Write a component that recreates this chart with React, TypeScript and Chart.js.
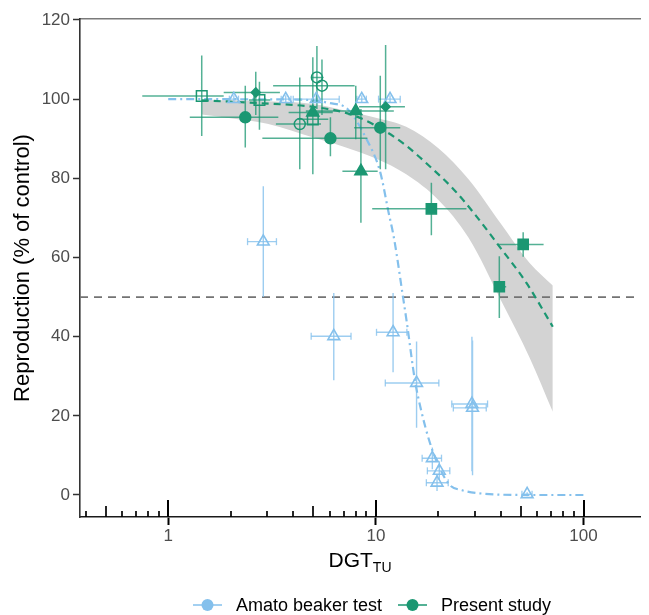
import React, { useEffect, useRef } from 'react';
import { Chart, registerables } from 'chart.js';

Chart.register(...registerables);

// ---------- axis ticks ----------
const xLogTicks = [0.4, 0.5, 0.6, 0.7, 0.8, 0.9, 1, 2, 3, 4, 5, 6, 7, 8, 9, 10, 20, 30, 40, 50, 60, 70, 80, 90, 100];
const xMajorTicks = [1, 10, 100];
const xMidTicks = [0.5, 5, 50];
const yTicks = [0, 20, 40, 60, 80, 100, 120];
const xMin = 0.376;
const xMax = 187;
const yMin = -5.56;
const yMax = 120.25;
const referenceLevel = 50;

// ---------- Amato beaker test ----------
const amatoX = [2.07, 3.68, 5.16, 8.55, 11.7, 2.87, 6.27, 12.1, 15.7, 29.0, 29.2, 18.7, 20.2, 19.7, 53.5];
const amatoY = [100, 100, 100, 100, 100, 64.0, 40.1, 41.1, 28.3, 23.0, 22.0, 9.3, 6.1, 3.1, 0.2];
const amatoXLow = [1.97, 3.5, 4.0, 8.1, 10.3, 2.41, 4.88, 10.07, 11.1, 23.2, 23.6, 16.7, 17.7, 17.5, 50.5];
const amatoXHigh = [2.18, 3.9, 6.66, 9.0, 13.1, 3.32, 7.59, 14.1, 20.1, 34.5, 34.0, 20.7, 22.7, 22.3, 56.5];
const amatoYLow = [99, 99, 99, 99, 99, 50, 29, 31, 17, 6, 5, 6.5, 3.8, 1.0, -0.3];
const amatoYHigh = [101, 101, 101, 101, 101, 78, 51, 51, 38.8, 40, 39, 12, 8.5, 5.2, 0.7];

// fitted curve
const amatoCurveX = [1.0, 4.2, 6, 7.3, 9, 10.5, 11.5, 12.25, 13.5, 14.1, 15.4, 16.5, 18.2, 20, 22.7, 26, 30.5, 54.6, 100];
const amatoCurveY = [100, 99.9, 99, 97.5, 90, 81.5, 71.5, 64.6, 50.1, 43.5, 29.1, 21.5, 13.2, 7.5, 2.5, 1.2, 0.5, 0, 0];

// ---------- Present study ----------
const presentGroup = ['openSquare', 'openSquare', 'openSquare', 'diamond', 'diamond', 'circle', 'circle', 'circle', 'openCircle', 'openCircle', 'openCircle', 'triangle', 'triangle', 'triangle', 'square', 'square', 'square'];
const presentX = [1.45, 2.75, 4.97, 2.64, 11.14, 2.35, 6.04, 10.5, 4.30, 5.2, 5.5, 4.97, 8.0, 8.47, 18.5, 51.2, 39.3];
const presentY = [100.8, 99.8, 94.9, 101.7, 98.1, 95.4, 90.1, 92.8, 93.7, 105.5, 103.4, 96.6, 97.0, 81.8, 72.3, 63.3, 52.6];
const presentXLow = [0.75, 2.45, 4.2, 1.85, 8.3, 1.27, 2.84, 7.86, 3.30, 4.9, 3.2, 3.8, 4.6, 6.9, 9.6, 38.7, 37.1];
const presentXHigh = [1.85, 3.1, 5.9, 3.45, 13.8, 3.39, 9.1, 13.1, 5.44, 5.6, 7.9, 6.2, 12.2, 10.2, 27.3, 64.2, 42.4];
const presentYLow = [90.7, 92.3, 88, 96, 82.3, 87.8, 85.6, 82.3, 82.3, 97.5, 96, 81, 89.9, 68.8, 65.6, 60.2, 44.7];
const presentYHigh = [111.0, 104.4, 101, 106.9, 113.7, 103.4, 95.4, 105.9, 105.5, 113.4, 110, 110.6, 103.4, 97.5, 78.9, 66.4, 60.3];

// fitted curve and confidence band
const presentCurveX = [1.45, 2.72, 5.08, 7.72, 11.35, 14.1, 18.2, 23.7, 30.5, 39.3, 52.9, 71.1];
const presentCurveY = [99.7, 99.0, 98.0, 96.0, 91.6, 88.1, 83.0, 77.2, 70.4, 62.8, 53.7, 42.5];
const bandX = [1.45, 2, 3, 5, 7, 10, 14, 20, 28, 40, 55, 71.1];
const bandUpper = [99.8, 99.7, 99.5, 98.8, 97.2, 95.3, 93.0, 87.6, 79.7, 68.5, 58.6, 52.9];
const bandLower = [96.1, 95.2, 93.8, 90.3, 88.0, 85.0, 81.0, 74.5, 64.9, 49.2, 34.7, 21.0];

// ---------- styles ----------
const FONT = "'Liberation Sans', Arial, Helvetica, sans-serif";
const BLUE = '#84c0ec';
const BLUE_BAR = 'rgba(132,192,236,0.8)';
const GREEN = '#1b9772';
const GREEN_BAR = 'rgba(27,151,114,0.75)';

const shapeStyle: Record<string, any> = {
  openSquare: { pointStyle: 'rect', pointRadius: 7.5, filled: false },
  diamond: { pointStyle: 'rectRot', pointRadius: 4.5, filled: true },
  circle: { pointStyle: 'circle', pointRadius: 5.5, filled: true },
  openCircle: { pointStyle: 'circle', pointRadius: 5.5, filled: false },
  triangle: { pointStyle: 'triangle', pointRadius: 7, filled: true },
  square: { pointStyle: 'rect', pointRadius: 7.2, filled: true },
};

function vSegments(xs: number[], lo: number[], hi: number[]) {
  const out: any[] = [];
  xs.forEach((x, i) => {
    out.push({ x, y: lo[i] }, { x, y: hi[i] }, { x, y: null });
  });
  return out;
}
function hSegments(ys: number[], lo: number[], hi: number[]) {
  const out: any[] = [];
  ys.forEach((y, i) => {
    out.push({ x: lo[i], y }, { x: hi[i], y }, { x: hi[i], y: null });
  });
  return out;
}

const decorPlugin = {
  id: 'decor',
  afterDraw(chart: any) {
    const { ctx, chartArea, scales } = chart;
    const xs = scales.x;
    ctx.save();
    // inner log ticks
    ctx.strokeStyle = '#000';
    xLogTicks.forEach((v) => {
      const px = Math.round(xs.getPixelForValue(v));
      const major = xMajorTicks.includes(v);
      const mid = xMidTicks.includes(v);
      const len = major ? 17 : mid ? 11 : 6;
      ctx.lineWidth = major ? 2 : 1.7;
      ctx.beginPath();
      ctx.moveTo(px, chartArea.bottom);
      ctx.lineTo(px, chartArea.bottom - len);
      ctx.stroke();
    });
    // x title with subscript
    ctx.fillStyle = '#000';
    ctx.textBaseline = 'alphabetic';
    ctx.textAlign = 'left';
    ctx.font = `21px ${FONT}`;
    const main = 'DGT';
    const mw = ctx.measureText(main).width;
    ctx.font = `14px ${FONT}`;
    const sw = ctx.measureText('TU').width;
    const cx = (chartArea.left + chartArea.right) / 2;
    const startX = cx - (mw + sw) / 2;
    ctx.font = `21px ${FONT}`;
    ctx.fillText(main, startX, 567);
    ctx.font = `14px ${FONT}`;
    ctx.fillText('TU', startX + mw, 572);
    // y title
    ctx.save();
    ctx.translate(23, (chartArea.top + chartArea.bottom) / 2);
    ctx.rotate(-Math.PI / 2);
    ctx.textAlign = 'center';
    ctx.textBaseline = 'middle';
    ctx.font = `22px ${FONT}`;
    ctx.fillText('Reproduction (% of control)', 0, 0);
    ctx.restore();
    // legend
    const items = [
      { label: 'Amato beaker test', color: BLUE, x0: 193 },
      { label: 'Present study', color: GREEN, x0: 398 },
    ];
    const ly = 605;
    items.forEach((it) => {
      ctx.strokeStyle = it.color;
      ctx.lineWidth = 1.5;
      ctx.beginPath();
      ctx.moveTo(it.x0, ly);
      ctx.lineTo(it.x0 + 29, ly);
      ctx.stroke();
      ctx.fillStyle = it.color;
      ctx.beginPath();
      ctx.arc(it.x0 + 14.5, ly, 6, 0, Math.PI * 2);
      ctx.fill();
      ctx.fillStyle = '#000';
      ctx.font = `18px ${FONT}`;
      ctx.textAlign = 'left';
      ctx.textBaseline = 'middle';
      ctx.fillText(it.label, it.x0 + 43, ly + 1);
    });
    ctx.restore();
  },
};

export default function App() {
  const ref = useRef<HTMLCanvasElement>(null);
  useEffect(() => {
    const canvas = ref.current!;
    const datasets: any[] = [];
    const base = { showLine: true, pointRadius: 0, fill: false, tension: 0 };

    datasets.push({ ...base, label: 'bandLower', data: bandX.map((x, i) => ({ x, y: bandLower[i] })), borderColor: 'transparent', borderWidth: 1, cubicInterpolationMode: 'monotone', order: 100 });
    datasets.push({ ...base, label: 'bandUpper', data: bandX.map((x, i) => ({ x, y: bandUpper[i] })), borderColor: 'transparent', borderWidth: 1, cubicInterpolationMode: 'monotone', fill: '-1', backgroundColor: '#d3d3d3', order: 99 });
    datasets.push({ ...base, label: 'ref', data: [{ x: xMin, y: referenceLevel }, { x: xMax, y: referenceLevel }], borderColor: '#737373', borderWidth: 1.8, borderDash: [8, 6], order: 90 });
    datasets.push({ ...base, label: 'amatoCurve', data: amatoCurveX.map((x, i) => ({ x, y: amatoCurveY[i] })), borderColor: BLUE, borderWidth: 2.2, borderDash: [8, 4, 2, 4], cubicInterpolationMode: 'monotone', order: 80 });
    datasets.push({ ...base, label: 'presentCurve', data: presentCurveX.map((x, i) => ({ x, y: presentCurveY[i] })), borderColor: GREEN, borderWidth: 2.2, borderDash: [7, 5], cubicInterpolationMode: 'monotone', order: 79 });

    // error bars
    datasets.push({ ...base, label: 'amatoV', data: vSegments(amatoX, amatoYLow, amatoYHigh), borderColor: BLUE_BAR, borderWidth: 1.4, order: 60 });
    datasets.push({ ...base, label: 'amatoH', data: hSegments(amatoY, amatoXLow, amatoXHigh), borderColor: BLUE_BAR, borderWidth: 1.4, pointRadius: 3.5, pointStyle: 'line', pointRotation: 90, pointBorderColor: BLUE_BAR, pointBorderWidth: 1.3, order: 60 });
    datasets.push({ ...base, label: 'presentV', data: vSegments(presentX, presentYLow, presentYHigh), borderColor: GREEN_BAR, borderWidth: 1.5, order: 55 });
    datasets.push({ ...base, label: 'presentH', data: hSegments(presentY, presentXLow, presentXHigh), borderColor: GREEN_BAR, borderWidth: 1.5, order: 55 });

    // markers
    datasets.push({ label: 'Amato beaker test', showLine: false, data: amatoX.map((x, i) => ({ x, y: amatoY[i] })), pointStyle: 'triangle', pointRadius: 6.8, pointBorderWidth: 1.6, pointBorderColor: BLUE, pointBackgroundColor: 'rgba(0,0,0,0)', order: 20 });
    Object.keys(shapeStyle).forEach((g, gi) => {
      const st = shapeStyle[g];
      const pts = presentX.map((x, i) => ({ x, y: presentY[i], g: presentGroup[i] })).filter((p) => p.g === g);
      datasets.push({ label: 'Present ' + g, showLine: false, data: pts, pointStyle: st.pointStyle, pointRadius: st.pointRadius, pointBorderWidth: 1.5, pointBorderColor: GREEN, pointBackgroundColor: st.filled ? GREEN : 'rgba(0,0,0,0)', order: 10 - gi * 0.1 });
    });

    const chart = new Chart(canvas, {
      type: 'line',
      data: { datasets },
      options: {
        animation: false,
        responsive: false,
        devicePixelRatio: 1,
        events: [],
        layout: { padding: { left: 0, right: 649 - 645, top: 19, bottom: 615 - 517 - 30 } },
        plugins: { legend: { display: false }, tooltip: { enabled: false } },
        scales: {
          x: {
            type: 'logarithmic',
            position: 'bottom',
            min: xMin,
            max: xMax,
            afterBuildTicks: (s: any) => { s.ticks = xMajorTicks.map((v) => ({ value: v })); },
            afterFit: (s: any) => { s.height = 30; },
            ticks: { callback: (v: any) => String(v), color: '#4d4d4d', font: { family: FONT, size: 17 }, padding: 1, autoSkip: false, maxRotation: 0 },
            grid: { display: true, drawOnChartArea: false, drawTicks: true, tickLength: 8, tickWidth: 2, tickColor: '#000' },
            border: { display: true, color: '#1a1a1a', width: 1.6 },
          },
          xTop: {
            type: 'linear',
            position: 'top',
            min: 0,
            max: 1,
            afterFit: (s: any) => { s.height = 0; },
            ticks: { display: false },
            grid: { display: false },
            border: { display: true, color: '#7a7a7a', width: 1.6 },
          },
          y: {
            type: 'linear',
            min: yMin,
            max: yMax,
            afterBuildTicks: (s: any) => { s.ticks = yTicks.map((v) => ({ value: v })); },
            afterFit: (s: any) => { s.width = 80; },
            ticks: { color: '#4d4d4d', font: { family: FONT, size: 17 }, padding: 3 },
            grid: { display: true, drawOnChartArea: false, drawTicks: true, tickLength: 7, tickWidth: 1.5, tickColor: '#333' },
            border: { display: true, color: '#333', width: 1.6 },
          },
        },
      } as any,
      plugins: [decorPlugin],
    });
    return () => chart.destroy();
  }, []);

  return (
    <div style={{ position: 'absolute', left: 0, top: 0, width: 649, height: 615, background: '#fff' }}>
      <canvas ref={ref} width={649} height={615} style={{ width: 649, height: 615, display: 'block' }} />
    </div>
  );
}
